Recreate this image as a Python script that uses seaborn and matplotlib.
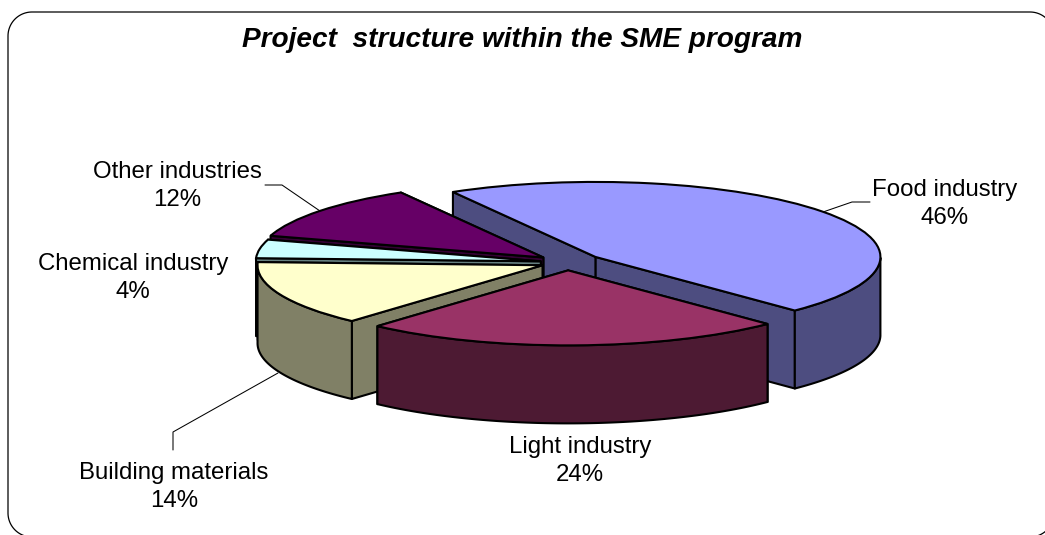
import numpy as np
import matplotlib
matplotlib.use("Agg")
import matplotlib.pyplot as plt
from matplotlib.patches import Polygon
from matplotlib.transforms import Affine2D
import seaborn as sns

# data
categories = ["Food industry", "Light industry", "Building materials", "Chemical industry", "Other industries"]
shares = [46, 24, 14, 4, 12]
top_colors = ["#9999FF", "#993366", "#FFFFCC", "#CCFFFF", "#660066"]
side_colors = ["#4D4D80", "#4D1A33", "#808066", "#668080", "#330033"]
title = "Project  structure within the SME program"

# pie look, in image pixels
CX, CY = 567.5, 262.5
RX, RY = 285, 75
DEPTH = 78
EXPLODE = [0.123, 0.105, 0.095, 0.095, 0.108]
LW = 1.5

# drawn back to front
draw_order = [0, 4, 3, 2, 1]
label_pos = [(945, 204), (580, 461), (174, 487), (133, 278), (177, 186)]
leaders = [
    [(823, 212), (852, 202), (870, 202)],
    [],
    [(278, 373), (173, 432), (173, 450)],
    [],
    [(320, 211), (282, 185), (265, 185)],
]

sns.set_theme(style="white")
plt.rcParams["font.family"] = ["Liberation Sans", "DejaVu Sans"]

fig = plt.figure(figsize=(10.45, 5.35), dpi=100)
ax = fig.add_axes([0, 0, 1, 1])

wedges, _ = ax.pie(
    shares,
    colors=sns.color_palette(top_colors),
    explode=EXPLODE,
    startangle=120,
    counterclock=False,
    wedgeprops=dict(edgecolor="black", linewidth=LW),
)
ax.set_aspect("auto")
ax.set_xlim(0, 1045)
ax.set_ylim(535, 0)
ax.axis("off")

pie_tf = Affine2D().scale(RX, -RY).translate(CX, CY)


def to_px(x, y):
    return pie_tf.transform(np.column_stack([x, y]))


for z, i in enumerate(draw_order):
    w = wedges[i]
    w.set_transform(pie_tf + ax.transData)
    w.set_zorder(z * 3 + 3)
    cx, cy = w.center
    side = dict(facecolor=side_colors[i], edgecolor="black", linewidth=LW, joinstyle="round")
    down = np.array([0, DEPTH])

    # the two cut faces
    apex = to_px([cx], [cy])[0]
    for ang in (w.theta1, w.theta2):
        rim = to_px([cx + np.cos(np.radians(ang))], [cy + np.sin(np.radians(ang))])[0]
        ax.add_patch(Polygon([apex, rim, rim + down, apex + down], zorder=z * 3 + 1, **side))

    # outer wall, only the part of the rim facing the viewer
    t = np.linspace(w.theta1, w.theta2, 200)
    t = t[np.sin(np.radians(t)) <= 0]
    if len(t) > 1:
        arc = to_px(cx + np.cos(np.radians(t)), cy + np.sin(np.radians(t)))
        ax.add_patch(Polygon(np.vstack([arc, arc[::-1] + down]), zorder=z * 3 + 2, **side))

for name, val, (lx, ly), pts in zip(categories, shares, label_pos, leaders):
    ax.text(lx, ly, f"{name}\n{val}%", ha="center", va="center", fontsize=17.3, color="black",
            linespacing=1.37, zorder=30)
    if pts:
        ax.plot(*zip(*pts), color="black", lw=0.75, zorder=1, solid_joinstyle="miter")

ax.text(522, 40, title, ha="center", va="center", fontsize=20.2, fontweight="bold",
        fontstyle="italic", color="black", zorder=30)

# chart area frame, runs a little past the right and bottom edges
# straight segments, curved paths get clipped badly at the canvas edge
x0, x1, y0, y1, r = 8, 1054, 12, 537, 24
frame = []
for ccx, ccy, a0 in [(x0 + r, y0 + r, 180), (x1 - r, y0 + r, 270), (x1 - r, y1 - r, 0), (x0 + r, y1 - r, 90)]:
    a = np.radians(np.linspace(a0, a0 + 90, 30))
    frame.append(np.column_stack([ccx + r * np.cos(a), ccy + r * np.sin(a)]))
ax.add_patch(Polygon(np.vstack(frame), closed=True, facecolor="none", edgecolor="black",
                     linewidth=0.9, zorder=31))

fig.savefig("out.png", dpi=100, facecolor="white")
